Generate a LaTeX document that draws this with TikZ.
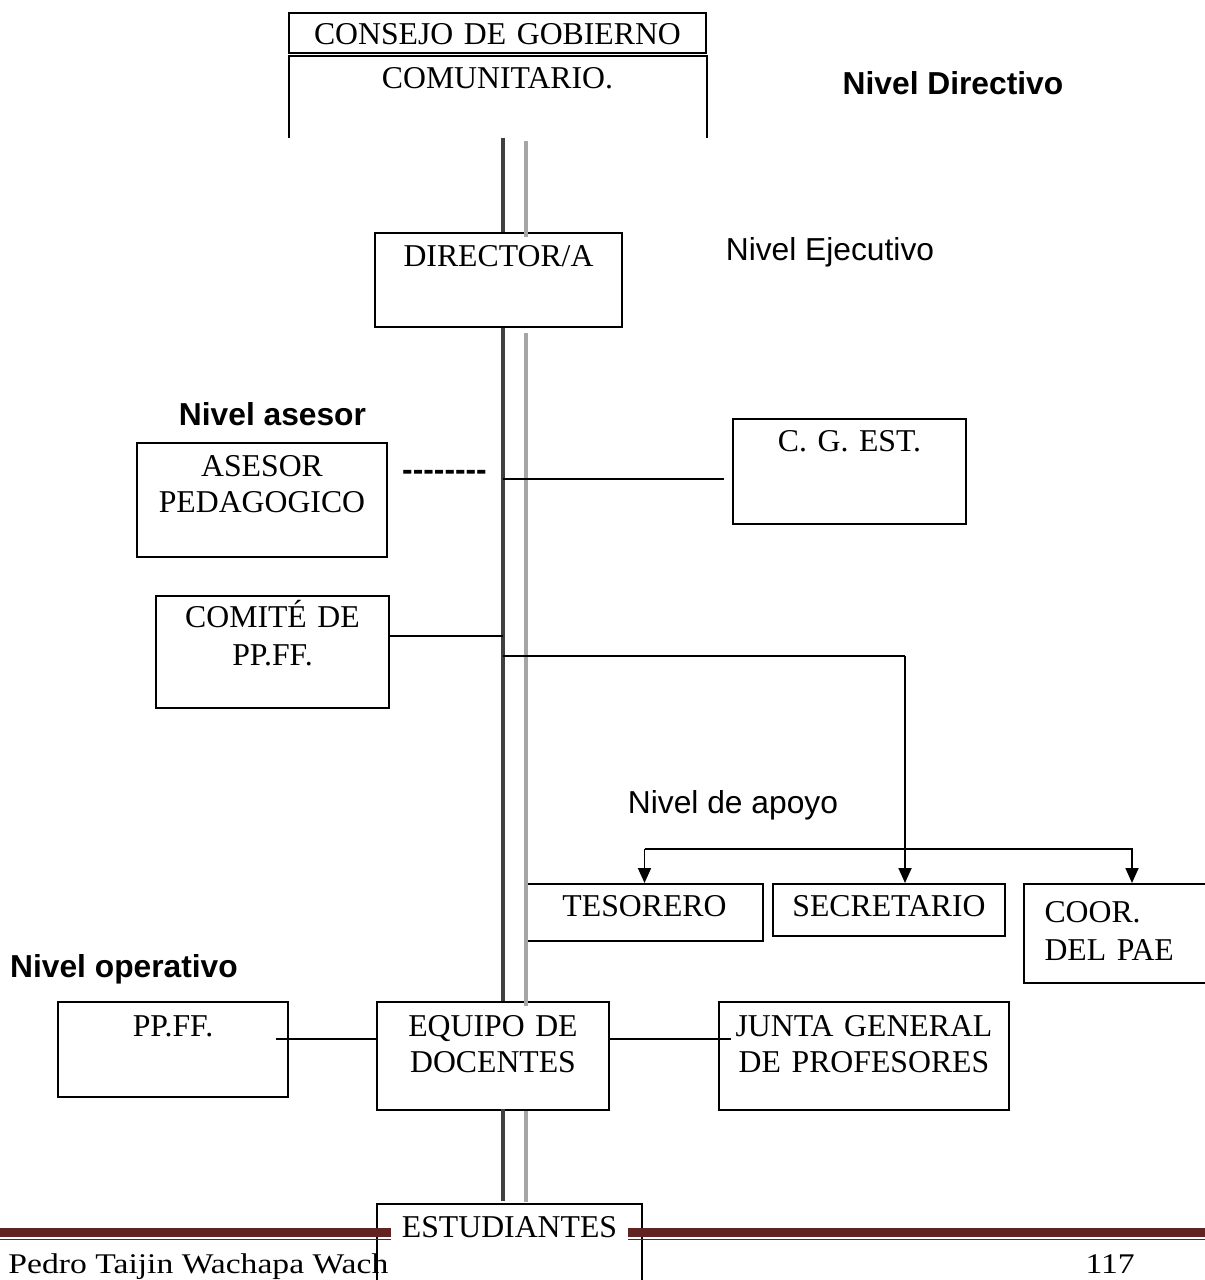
\documentclass[tikz,border=0pt]{standalone}
\usepackage{fontspec}
\setmainfont{Liberation Serif}
\newfontfamily\arialfont{Liberation Sans}
\newfontfamily\footerfont[FakeStretch=1.18]{Liberation Serif}
\usepackage{tikz}
\usetikzlibrary{arrows.meta, calc}
\definecolor{footred}{HTML}{622423}
\definecolor{spinedark}{HTML}{404040}
\definecolor{spinegray}{HTML}{A6A6A6}
\tikzstyle{orgbox} = [rectangle, draw=black, line width=0.8pt, inner sep=0pt]
\tikzstyle{boxtext} = [font=\fontsize{12.7}{14.4}\selectfont, text width=170pt, align=center, anchor=base, inner sep=0pt]
\tikzstyle{level} = [font=\arialfont\fontsize{12.7}{15}\selectfont, anchor=base, inner sep=0pt]
\tikzstyle{levelbold} = [level, font=\arialfont\bfseries\fontsize{12.7}{15}\selectfont]
\tikzstyle{footer} = [font=\footerfont\fontsize{11.4}{13}\selectfont, anchor=base west, inner sep=0pt]
\tikzstyle{link} = [line width=0.6pt, black]
\tikzstyle{arrow} = [line width=0.7pt, -{Triangle[length=6pt,width=5.2pt]}, black]
\tikzstyle{spine} = [line width=1.8pt, spinedark]
\tikzstyle{spineshade} = [line width=1.8pt, spinegray]

\begin{document}
\begin{tikzpicture}[x=0.4pt, y=-0.4pt]
    \path[use as bounding box, fill=white] (0,0) rectangle (1205,1280);

    % Boxes
    \node[orgbox, minimum width=166.8pt, minimum height=16pt] (council) at (497.5,33) {};
    \node[minimum width=166.8pt, minimum height=32.4pt, inner sep=0pt] (councilb) at (497.5,96.5) {};
    \draw[line width=0.8pt] (councilb.south west) -- (councilb.north west) -- (councilb.north east) -- (councilb.south east);
    \node[orgbox, minimum width=98.8pt, minimum height=37.6pt] (director) at (498.5,280) {};
    \node[orgbox, minimum width=100pt, minimum height=45.6pt] (asesor) at (262,500) {};
    \node[orgbox, minimum width=93.2pt, minimum height=42pt] (cgest) at (849.5,471.5) {};
    \node[orgbox, minimum width=93.2pt, minimum height=44.8pt] (comite) at (272.5,652) {};
    \node[orgbox, minimum width=94.8pt, minimum height=22.8pt] (tesorero) at (644.5,912.5) {};
    \node[orgbox, minimum width=92.8pt, minimum height=20.8pt] (secretario) at (889,910) {};
    \node[orgbox, minimum width=86.4pt, minimum height=39.6pt] (coor) at (1132,933.5) {};
    \node[orgbox, minimum width=92pt, minimum height=38pt] (ppff) at (173,1049.5) {};
    \node[orgbox, minimum width=92.8pt, minimum height=43.2pt] (equipo) at (493,1056) {};
    \node[orgbox, minimum width=116pt, minimum height=43.2pt] (junta) at (864,1056) {};
    \node[orgbox, minimum width=106pt, minimum height=38.4pt] (estud) at (509.5,1252) {};

    % Box texts
    \node[boxtext] (tcouncil) at ([yshift=-12.8pt]council.north) {CONSEJO DE GOBIERNO};
    \node[boxtext] (tcouncilb) at ([yshift=-13.2pt]councilb.north) {COMUNITARIO.};
    \node[boxtext] (tdirector) at ([yshift=-13.6pt]director.north) {DIRECTOR/A};
    \node[boxtext] (tasesor) at ([yshift=-13.6pt]asesor.north) {ASESOR\\PEDAGOGICO};
    \node[boxtext] (tcgest) at ([yshift=-13.2pt]cgest.north) {C. G. EST.};
    \node[boxtext] (tcomite) at ([yshift=-12.8pt]comite.north) {COMITÉ DE\\[0.8pt]PP.FF.};
    \node[boxtext] (ttesorero) at ([yshift=-13.2pt]tesorero.north) {TESORERO};
    \node[boxtext] (tsecretario) at ([yshift=-13.2pt]secretario.north) {SECRETARIO};
    \node[boxtext, align=left, anchor=base west] (tcoor) at ([xshift=8.4pt,yshift=-15.6pt]coor.north west) {COOR.\\[0.8pt]DEL PAE};
    \node[boxtext] (tppff) at ([yshift=-14pt]ppff.north) {PP.FF.};
    \node[boxtext] (tequipo) at ([yshift=-14pt]equipo.north) {EQUIPO DE\\DOCENTES};
    \node[boxtext] (tjunta) at ([yshift=-14pt]junta.north) {JUNTA GENERAL\\DE PROFESORES};

    % Spine
    \coordinate (spineX) at (503,0);
    \coordinate (shadeX) at (526,0);
    \draw[spine] (councilb.south -| spineX) -- (director.north -| spineX);
    \draw[spineshade] ([yshift=-1.2pt]councilb.south -| shadeX) -- ([yshift=-2pt]director.north -| shadeX);
    \draw[spine] (director.south -| spineX) -- (equipo.north -| spineX);
    \draw[spineshade] ([yshift=-2pt]director.south -| shadeX) -- ([yshift=-2pt]equipo.north -| shadeX);
    \draw[spine] ([yshift=0.8pt]equipo.south -| spineX) -- ([yshift=0.8pt]estud.north -| spineX);
    \draw[spineshade] (equipo.south -| shadeX) -- ([yshift=0.4pt]estud.north -| shadeX);

    % Connectors
    \draw[link] ([yshift=-3pt]cgest.west -| spineX) -- ([xshift=-3.2pt,yshift=-3pt]cgest.west);
    \draw[link] ([yshift=6.4pt]comite.east) -- ([yshift=6.4pt]comite.east -| spineX);
    \coordinate (branch) at (905,656);
    \coordinate (bar) at (905,849);
    \draw[link] (branch -| spineX) -- (branch);
    \draw[arrow] (branch) -- (branch |- secretario.north);
    \draw[arrow] (tesorero.north |- bar) -- (tesorero.north);
    \draw[arrow] (tesorero.north |- bar) -| (coor.north);
    \coordinate (opline) at (0,1039);
    \draw[link] ([xshift=-5.2pt]ppff.east |- opline) -- (equipo.west |- opline);
    \draw[link] (equipo.east |- opline) -- ([xshift=5.2pt]junta.west |- opline);

    % Level labels
    \node[levelbold] (lvdir) at (953,94) {Nivel Directivo};
    \node[level] (lvexe) at (830,260) {Nivel Ejecutivo};
    \node[levelbold] (lvase) at (272.5,425) {Nivel asesor};
    \node[levelbold] (dashes) at (444.5,480) {-\kern0pt-\kern0pt-\kern0pt-\kern0pt-\kern0pt-\kern0pt-\kern0pt-};
    \node[level] (lvapo) at (733,813) {Nivel de apoyo};
    \node[levelbold] (lvope) at (124,977) {Nivel operativo};

    % Footer
    \coordinate (ruleL) at (0,1232.5);
    \coordinate (ruleR) at (1205,1232.5);
    \draw[footred, line width=3.3pt] (ruleL) -- (ruleR);
    \draw[footred, line width=0.7pt] ([yshift=-2.8pt]ruleL) -- ([yshift=-2.8pt]ruleR);
    \node[font=\fontsize{12.7}{14.4}\selectfont, fill=white, inner xsep=4.2pt, inner ysep=2pt, anchor=base] (testud) at ([yshift=-13.6pt]estud.north) {ESTUDIANTES};
    \node[footer] (author) at (8,1273) {Pedro Taijin Wachapa Wach};
    \node[footer] (pageno) at (1085,1273) {117};
\end{tikzpicture}
\end{document}
